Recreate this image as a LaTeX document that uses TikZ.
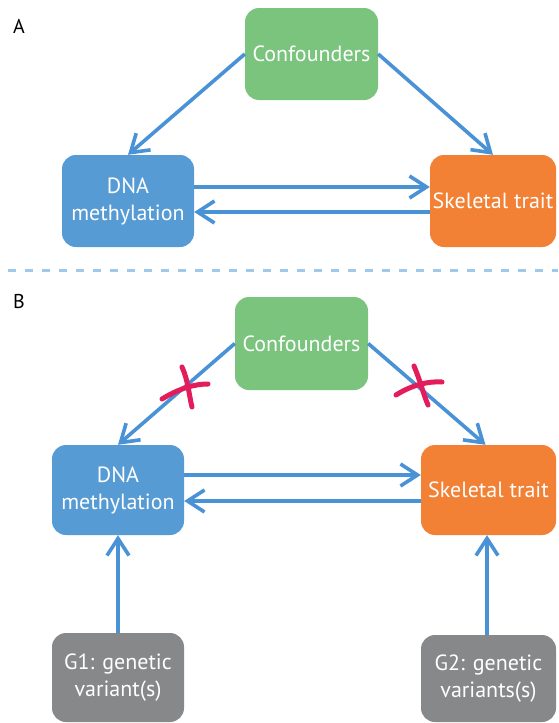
\documentclass[tikz,border=0pt]{standalone}
\usepackage{fontspec}
\setmainfont{PT Sans}
\usetikzlibrary{arrows.meta}
\definecolor{cgreen}{RGB}{122,196,126}
\definecolor{cblue}{RGB}{86,155,212}
\definecolor{corange}{RGB}{242,129,53}
\definecolor{cgray}{RGB}{135,136,137}
\definecolor{carrow}{RGB}{74,146,214}
\definecolor{cdash}{RGB}{160,200,235}
\definecolor{cmark}{RGB}{227,29,92}
\tikzset{
  box/.style={rounded corners=14pt, inner sep=0pt, text=white, align=center,
    font=\fontsize{22}{27}\selectfont},
  link/.style={draw=carrow, line width=3.6pt,
    -{Straight Barb[length=17pt,width=22pt,line width=3.6pt]}},
  cross/.style={draw=cmark, line width=5pt, line cap=round},
  panel/.style={font=\fontsize{20}{22}\selectfont, text=black}
}
\begin{document}
\begin{tikzpicture}[x=1pt,y=1pt]
\useasboundingbox (0,0) rectangle (558,-723);
\fill[white] (0,0) rectangle (558,-723);
% panel A
\node[panel] (labA) at (19,-26) {A};
\node[box, fill=cgreen, minimum width=133pt, minimum height=92pt] (confA) at (311.5,-54) {Confounders};
\node[box, fill=cblue, minimum width=132pt, minimum height=92pt] (dnaA) at (128,-201) {DNA\\methylation};
\node[box, fill=corange, minimum width=126pt, minimum height=92pt] (skelA) at (493,-201) {Skeletal trait};
\draw[link] (confA.west) -- (dnaA.north);
\draw[link] (confA.east) -- (skelA.north);
\draw[link] ([yshift=14pt]dnaA.east) -- ([yshift=14pt]skelA.west);
\draw[link] ([yshift=-11pt]skelA.west) -- ([yshift=-11pt]dnaA.east);
% separator
\coordinate (sepL) at (8,-270);
\coordinate (sepR) at (558,-270);
\draw[cdash, line width=3pt, dash pattern=on 8pt off 9pt] (sepL) -- (sepR);
% panel B
\node[panel] (labB) at (19,-301) {B};
\node[box, fill=cgreen, minimum width=133pt, minimum height=93pt] (confB) at (301.5,-343.5) {Confounders};
\node[box, fill=cblue, minimum width=132pt, minimum height=90pt] (dnaB) at (118,-490) {DNA\\methylation};
\node[box, fill=corange, minimum width=135pt, minimum height=90pt] (skelB) at (488.5,-490) {Skeletal trait};
\node[box, fill=cgray, minimum width=132pt, minimum height=89pt] (g1) at (118,-677.5) {G1: genetic\\variant(s)};
\node[box, fill=cgray, minimum width=135pt, minimum height=87pt] (g2) at (488.5,-678.5) {G2: genetic\\variants(s)};
\draw[link] (confB.west) -- (dnaB.north);
\draw[link] (confB.east) -- ([xshift=-3pt]skelB.north);
\draw[link] ([yshift=15pt]dnaB.east) -- ([yshift=15pt]skelB.west);
\draw[link] ([yshift=-11pt]skelB.west) -- ([yshift=-11pt]dnaB.east);
\draw[link] (g1.north) -- (dnaB.south);
\draw[link] ([xshift=-1.5pt]g2.north) -- ([xshift=-1.5pt]skelB.south);
% crosses
\draw[cross] (162,-399) .. controls (180,-388) and (195,-384) .. (208,-384);
\draw[cross] (182,-367) .. controls (188,-380) and (189,-395) .. (192,-407);
\draw[cross] (396,-395) .. controls (412,-385) and (428,-381) .. (442,-382);
\draw[cross] (414,-366) .. controls (420,-380) and (423,-393) .. (428,-405);
\end{tikzpicture}
\end{document}
